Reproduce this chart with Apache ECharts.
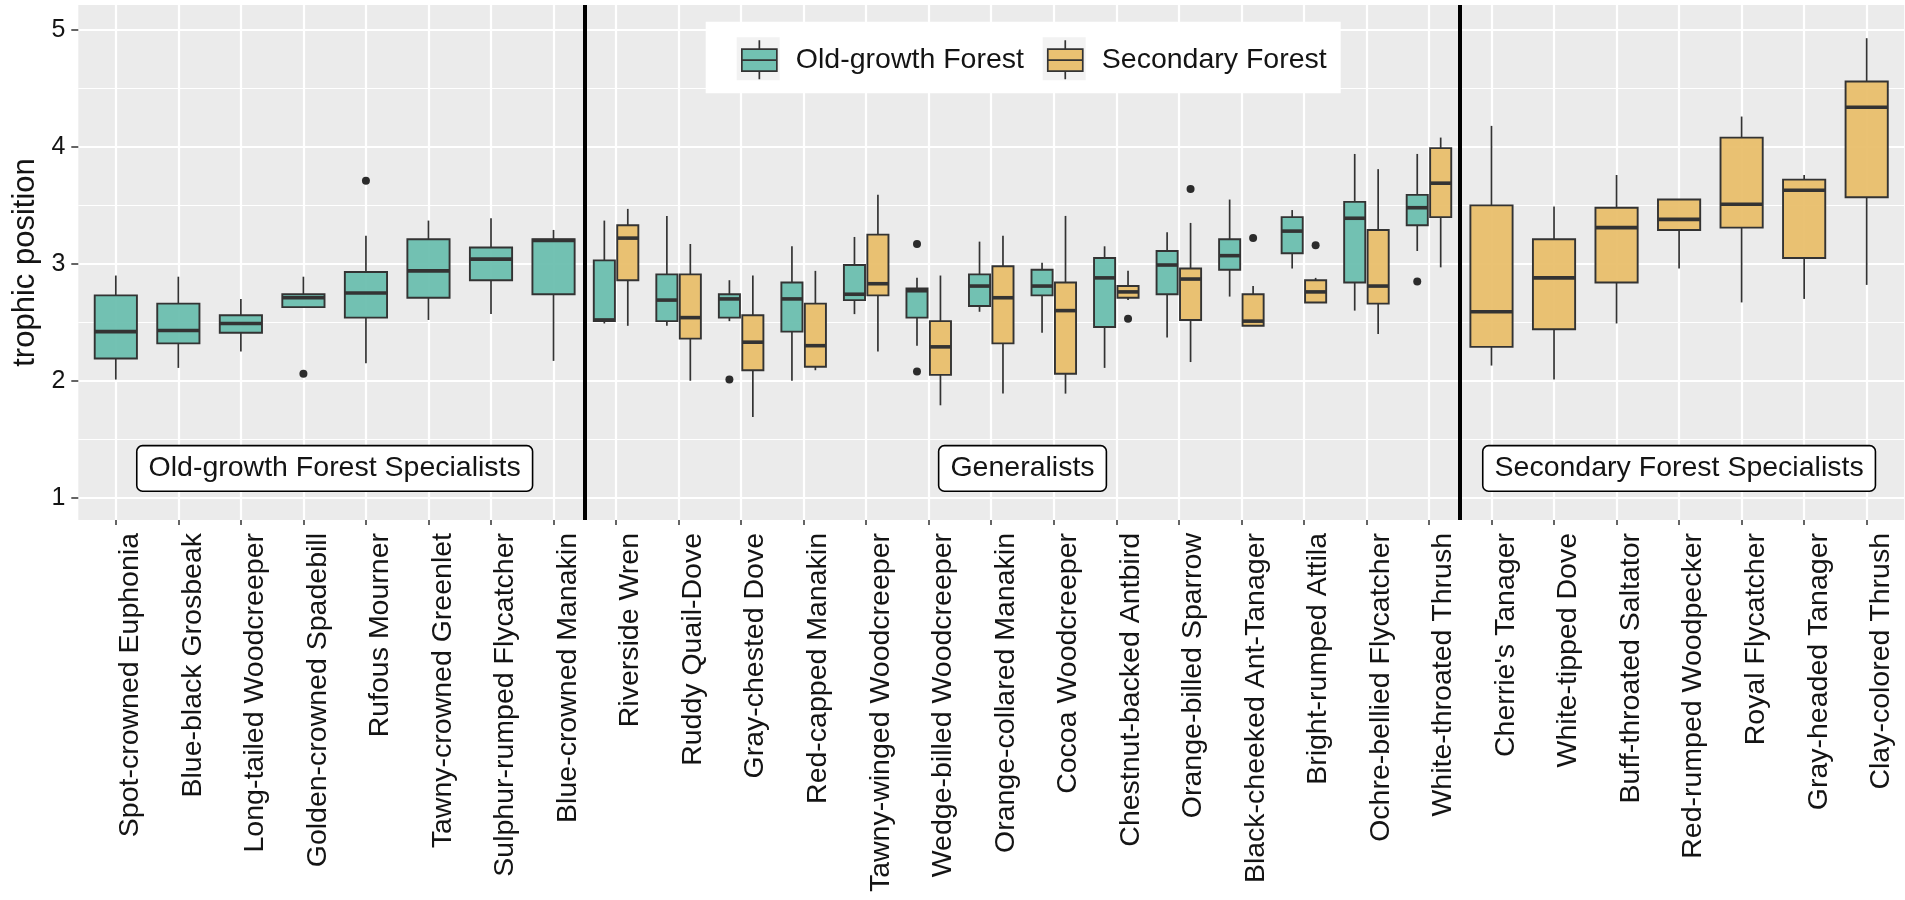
<!DOCTYPE html>
<html>
<head>
<meta charset="utf-8">
<script src="https://cdn.jsdelivr.net/npm/echarts@6/dist/echarts.min.js"></script>
<style>
  html, body { margin: 0; padding: 0; background: #fff; }
  #chart { width: 1905px; height: 900px; }
</style>
</head>
<body>
<div id="chart"></div>
<script>
// ---------- data ----------
const categories = [
  'Spot-crowned Euphonia', 'Blue-black Grosbeak', 'Long-tailed Woodcreeper', 'Golden-crowned Spadebill',
  'Rufous Mourner', 'Tawny-crowned Greenlet', 'Sulphur-rumped Flycatcher', 'Blue-crowned Manakin',
  'Riverside Wren', 'Ruddy Quail-Dove', 'Gray-chested Dove', 'Red-capped Manakin',
  'Tawny-winged Woodcreeper', 'Wedge-billed Woodcreeper', 'Orange-collared Manakin', 'Cocoa Woodcreeper',
  'Chestnut-backed Antbird', 'Orange-billed Sparrow', 'Black-cheeked Ant-Tanager', 'Bright-rumped Attila',
  'Ochre-bellied Flycatcher', 'White-throated Thrush', "Cherrie's Tanager", 'White-tipped Dove',
  'Buff-throated Saltator', 'Red-rumped Woodpecker', 'Royal Flycatcher', 'Gray-headed Tanager',
  'Clay-colored Thrush'
];

// [lower whisker, Q1, median, Q3, upper whisker]
const oldGrowth = [
  [2.01, 2.19, 2.42, 2.73, 2.90],
  [2.11, 2.32, 2.43, 2.66, 2.89],
  [2.25, 2.41, 2.49, 2.56, 2.70],
  [2.63, 2.63, 2.71, 2.74, 2.89],
  [2.15, 2.54, 2.75, 2.93, 3.24],
  [2.52, 2.71, 2.94, 3.21, 3.37],
  [2.57, 2.86, 3.04, 3.14, 3.39],
  [2.17, 2.74, 3.20, 3.21, 3.29],
  [2.49, 2.51, 2.52, 3.03, 3.37],
  [2.47, 2.51, 2.69, 2.91, 3.41],
  [2.51, 2.54, 2.70, 2.74, 2.86],
  [2.00, 2.42, 2.70, 2.84, 3.15],
  [2.57, 2.69, 2.74, 2.99, 3.23],
  [2.30, 2.54, 2.77, 2.79, 2.88],
  [2.59, 2.64, 2.81, 2.91, 3.19],
  [2.41, 2.73, 2.81, 2.95, 3.01],
  [2.11, 2.46, 2.88, 3.05, 3.15],
  [2.37, 2.74, 2.99, 3.11, 3.27],
  [2.72, 2.95, 3.07, 3.21, 3.55],
  [2.96, 3.09, 3.28, 3.40, 3.46],
  [2.60, 2.84, 3.39, 3.53, 3.94],
  [3.11, 3.33, 3.48, 3.59, 3.94],
  null, null, null, null, null, null, null
];

const secondary = [
  null, null, null, null, null, null, null, null,
  [2.47, 2.86, 3.22, 3.33, 3.47],
  [2.00, 2.36, 2.54, 2.91, 3.17],
  [1.69, 2.09, 2.33, 2.56, 2.90],
  [2.09, 2.12, 2.30, 2.66, 2.94],
  [2.25, 2.73, 2.83, 3.25, 3.59],
  [1.79, 2.05, 2.29, 2.51, 2.90],
  [1.89, 2.32, 2.71, 2.98, 3.24],
  [1.89, 2.06, 2.60, 2.84, 3.41],
  [2.69, 2.71, 2.76, 2.81, 2.94],
  [2.16, 2.52, 2.87, 2.96, 3.35],
  [2.47, 2.47, 2.51, 2.74, 2.81],
  [2.67, 2.67, 2.76, 2.86, 2.88],
  [2.40, 2.66, 2.81, 3.29, 3.81],
  [2.97, 3.40, 3.69, 3.99, 4.08],
  [2.13, 2.29, 2.59, 3.50, 4.18],
  [2.01, 2.44, 2.88, 3.21, 3.49],
  [2.49, 2.84, 3.31, 3.48, 3.76],
  [2.96, 3.29, 3.38, 3.55, 3.55],
  [2.67, 3.31, 3.51, 4.08, 4.26],
  [2.70, 3.05, 3.63, 3.72, 3.76],
  [2.82, 3.57, 4.34, 4.56, 4.93]
];

// outliers: [category index, value]
const oldOutliers = [[3, 2.06], [4, 3.71], [10, 2.01], [13, 3.17], [13, 2.08], [21, 2.85]];
const secOutliers = [[16, 2.53], [17, 3.64], [18, 3.22], [19, 3.16]];

const groupLabels = ['Old-growth Forest Specialists', 'Generalists', 'Secondary Forest Specialists'];
const groupLabelX = [3.5, 14.5, 25];
const groupLabelY = [1.25, 1.25, 1.25];
const dividers = [7.5, 21.5];

const yTicks = [1, 2, 3, 4, 5];
const yMinor = [1.5, 2.5, 3.5, 4.5];
const seriesNames = ['Old-growth Forest', 'Secondary Forest'];

// ---------- styling / layout ----------
const FONT = '"Liberation Sans", Arial, sans-serif';
const TEXT = '#141414';
const COL_OLD = 'rgba(103,189,172,0.92)';
const COL_SEC = 'rgba(232,189,103,0.92)';
const DODGE = 0.1875;
const HALF_PAIR = 0.16875;
const HALF_SINGLE = 0.3375;
const catIdx = categories.map((_, i) => i);

function centerOf(i, isOld) {
  const both = oldGrowth[i] && secondary[i];
  return i + (both ? (isOld ? -DODGE : DODGE) : 0);
}

function boxRender(isOld, fill) {
  return function (params, api) {
    const i = api.value(0);
    const both = oldGrowth[i] && secondary[i];
    const c = centerOf(i, isOld);
    const hw = both ? HALF_PAIR : HALF_SINGLE;
    const low = api.value(1), q1 = api.value(2), med = api.value(3), q3 = api.value(4), high = api.value(5);
    const tl = api.coord([c - hw, q3]);
    const br = api.coord([c + hw, q1]);
    const pHigh = api.coord([c, high]);
    const pQ3 = api.coord([c, q3]);
    const pQ1 = api.coord([c, q1]);
    const pLow = api.coord([c, low]);
    const m1 = api.coord([c - hw, med]);
    const m2 = api.coord([c + hw, med]);
    const ln = { stroke: '#333333', lineWidth: 1.7 };
    return {
      type: 'group',
      children: [
        { type: 'line', shape: { x1: pHigh[0], y1: pHigh[1], x2: pQ3[0], y2: pQ3[1] }, style: ln },
        { type: 'line', shape: { x1: pQ1[0], y1: pQ1[1], x2: pLow[0], y2: pLow[1] }, style: ln },
        { type: 'rect', shape: { x: tl[0], y: tl[1], width: br[0] - tl[0], height: br[1] - tl[1] },
          style: { fill: fill, stroke: '#333333', lineWidth: 1.9 } },
        { type: 'line', shape: { x1: m1[0], y1: m1[1], x2: m2[0], y2: m2[1] },
          style: { stroke: '#333333', lineWidth: 3.6 } }
      ]
    };
  };
}

function toBoxData(arr) {
  const out = [];
  arr.forEach((v, i) => { if (v) out.push([i].concat(v)); });
  return out;
}

const legendIcon = 'path://M17.5,0L17.5,9M0,9L35,9L35,31L0,31ZM0,20L35,20M17.5,31L17.5,39';

const chart = echarts.init(document.getElementById('chart'), null, { renderer: 'canvas' });

const option = {
  animation: false,
  backgroundColor: '#ffffff',
  textStyle: { fontFamily: FONT },
  grid: {
    left: 78.3, right: 0.8, top: 5, bottom: 380,
    show: true, backgroundColor: '#EBEBEB', borderWidth: 0
  },
  graphic: [
    { type: 'rect', shape: { x: 705.7, y: 21.7, width: 635, height: 71.6 }, style: { fill: '#ffffff' }, z: 3 },
    { type: 'rect', shape: { x: 736.7, y: 37.3, width: 43, height: 43 }, style: { fill: '#F2F2F2' }, z: 3 },
    { type: 'rect', shape: { x: 1042.7, y: 37.3, width: 43, height: 43 }, style: { fill: '#F2F2F2' }, z: 3 }
  ],
  legend: {
    left: 705.7, top: 21.7,
    padding: [17.6, 13.7, 15, 35.3],
    itemWidth: 35, itemHeight: 39, itemGap: 23,
    z: 5,
    itemStyle: { borderColor: '#333333', borderWidth: 1.7 },
    textStyle: { fontSize: 28.5, color: TEXT, fontFamily: FONT, padding: [0, 0, 0, 14] },
    data: seriesNames.map(n => ({ name: n, icon: legendIcon }))
  },
  xAxis: {
    type: 'value', min: -0.6, max: 28.6,
    axisLine: { show: false, onZero: false },
    axisTick: { show: true, length: 5, customValues: catIdx, lineStyle: { color: '#333333', width: 1.5 } },
    axisLabel: {
      customValues: catIdx,
      formatter: v => categories[Math.round(v)],
      rotate: 90, margin: 13, fontSize: 28.5, color: TEXT, fontFamily: FONT,
      verticalAlign: 'top'
    },
    splitLine: { show: true, lineStyle: { color: '#ffffff', width: 2.2 } }
  },
  yAxis: [
    {
      type: 'value', min: 0.809, max: 5.214, position: 'left',
      name: 'trophic position', nameLocation: 'middle', nameRotate: 90, nameGap: 34,
      nameTextStyle: { fontSize: 31, color: TEXT, fontFamily: FONT },
      axisLine: { show: false, onZero: false },
      axisTick: { show: true, length: 7, customValues: yTicks, lineStyle: { color: '#333333', width: 1.5 } },
      axisLabel: { customValues: yTicks, fontSize: 25, color: TEXT, margin: 13, fontFamily: FONT },
      splitLine: { show: true, lineStyle: { color: '#ffffff', width: 2.2 } }
    },
    {
      type: 'value', min: 0.809, max: 5.214, position: 'left',
      axisLine: { show: false, onZero: false },
      axisTick: { show: false, customValues: yMinor },
      axisLabel: { show: false },
      splitLine: { show: true, lineStyle: { color: '#ffffff', width: 1.2 } }
    }
  ],
  series: [
    {
      name: seriesNames[0], type: 'custom', xAxisIndex: 0, yAxisIndex: 0, z: 3,
      itemStyle: { color: COL_OLD },
      renderItem: boxRender(true, COL_OLD),
      encode: { x: 0, y: [1, 2, 3, 4, 5] },
      data: toBoxData(oldGrowth)
    },
    {
      name: seriesNames[1], type: 'custom', xAxisIndex: 0, yAxisIndex: 0, z: 3,
      itemStyle: { color: COL_SEC },
      renderItem: boxRender(false, COL_SEC),
      encode: { x: 0, y: [1, 2, 3, 4, 5] },
      data: toBoxData(secondary)
    },
    {
      name: 'Old-growth outliers', type: 'scatter', z: 4, symbolSize: 8,
      itemStyle: { color: '#2b2b2b', opacity: 1 },
      data: oldOutliers.map(d => [centerOf(d[0], true), d[1]])
    },
    {
      name: 'Secondary outliers', type: 'scatter', z: 4, symbolSize: 8,
      itemStyle: { color: '#2b2b2b', opacity: 1 },
      data: secOutliers.map(d => [centerOf(d[0], false), d[1]])
    },
    {
      name: 'group labels', type: 'custom', z: 5,
      encode: { x: 0, y: 1 },
      data: groupLabels.map((t, k) => [groupLabelX[k], groupLabelY[k], k]),
      renderItem: function (params, api) {
        const p = api.coord([api.value(0), api.value(1)]);
        return {
          type: 'text',
          style: {
            text: groupLabels[api.value(2)], x: p[0], y: p[1],
            align: 'center', verticalAlign: 'middle',
            fill: TEXT, font: '28.5px ' + FONT,
            backgroundColor: '#ffffff', borderColor: '#000000', borderWidth: 1.6, borderRadius: 5,
            padding: [7.5, 11]
          }
        };
      },
      markLine: {
        silent: true, symbol: 'none', animation: false,
        label: { show: false },
        lineStyle: { color: '#000000', width: 4, type: 'solid' },
        data: dividers.map(x => ({ xAxis: x }))
      }
    }
  ]
};
chart.setOption(option);
</script>
</body>
</html>
